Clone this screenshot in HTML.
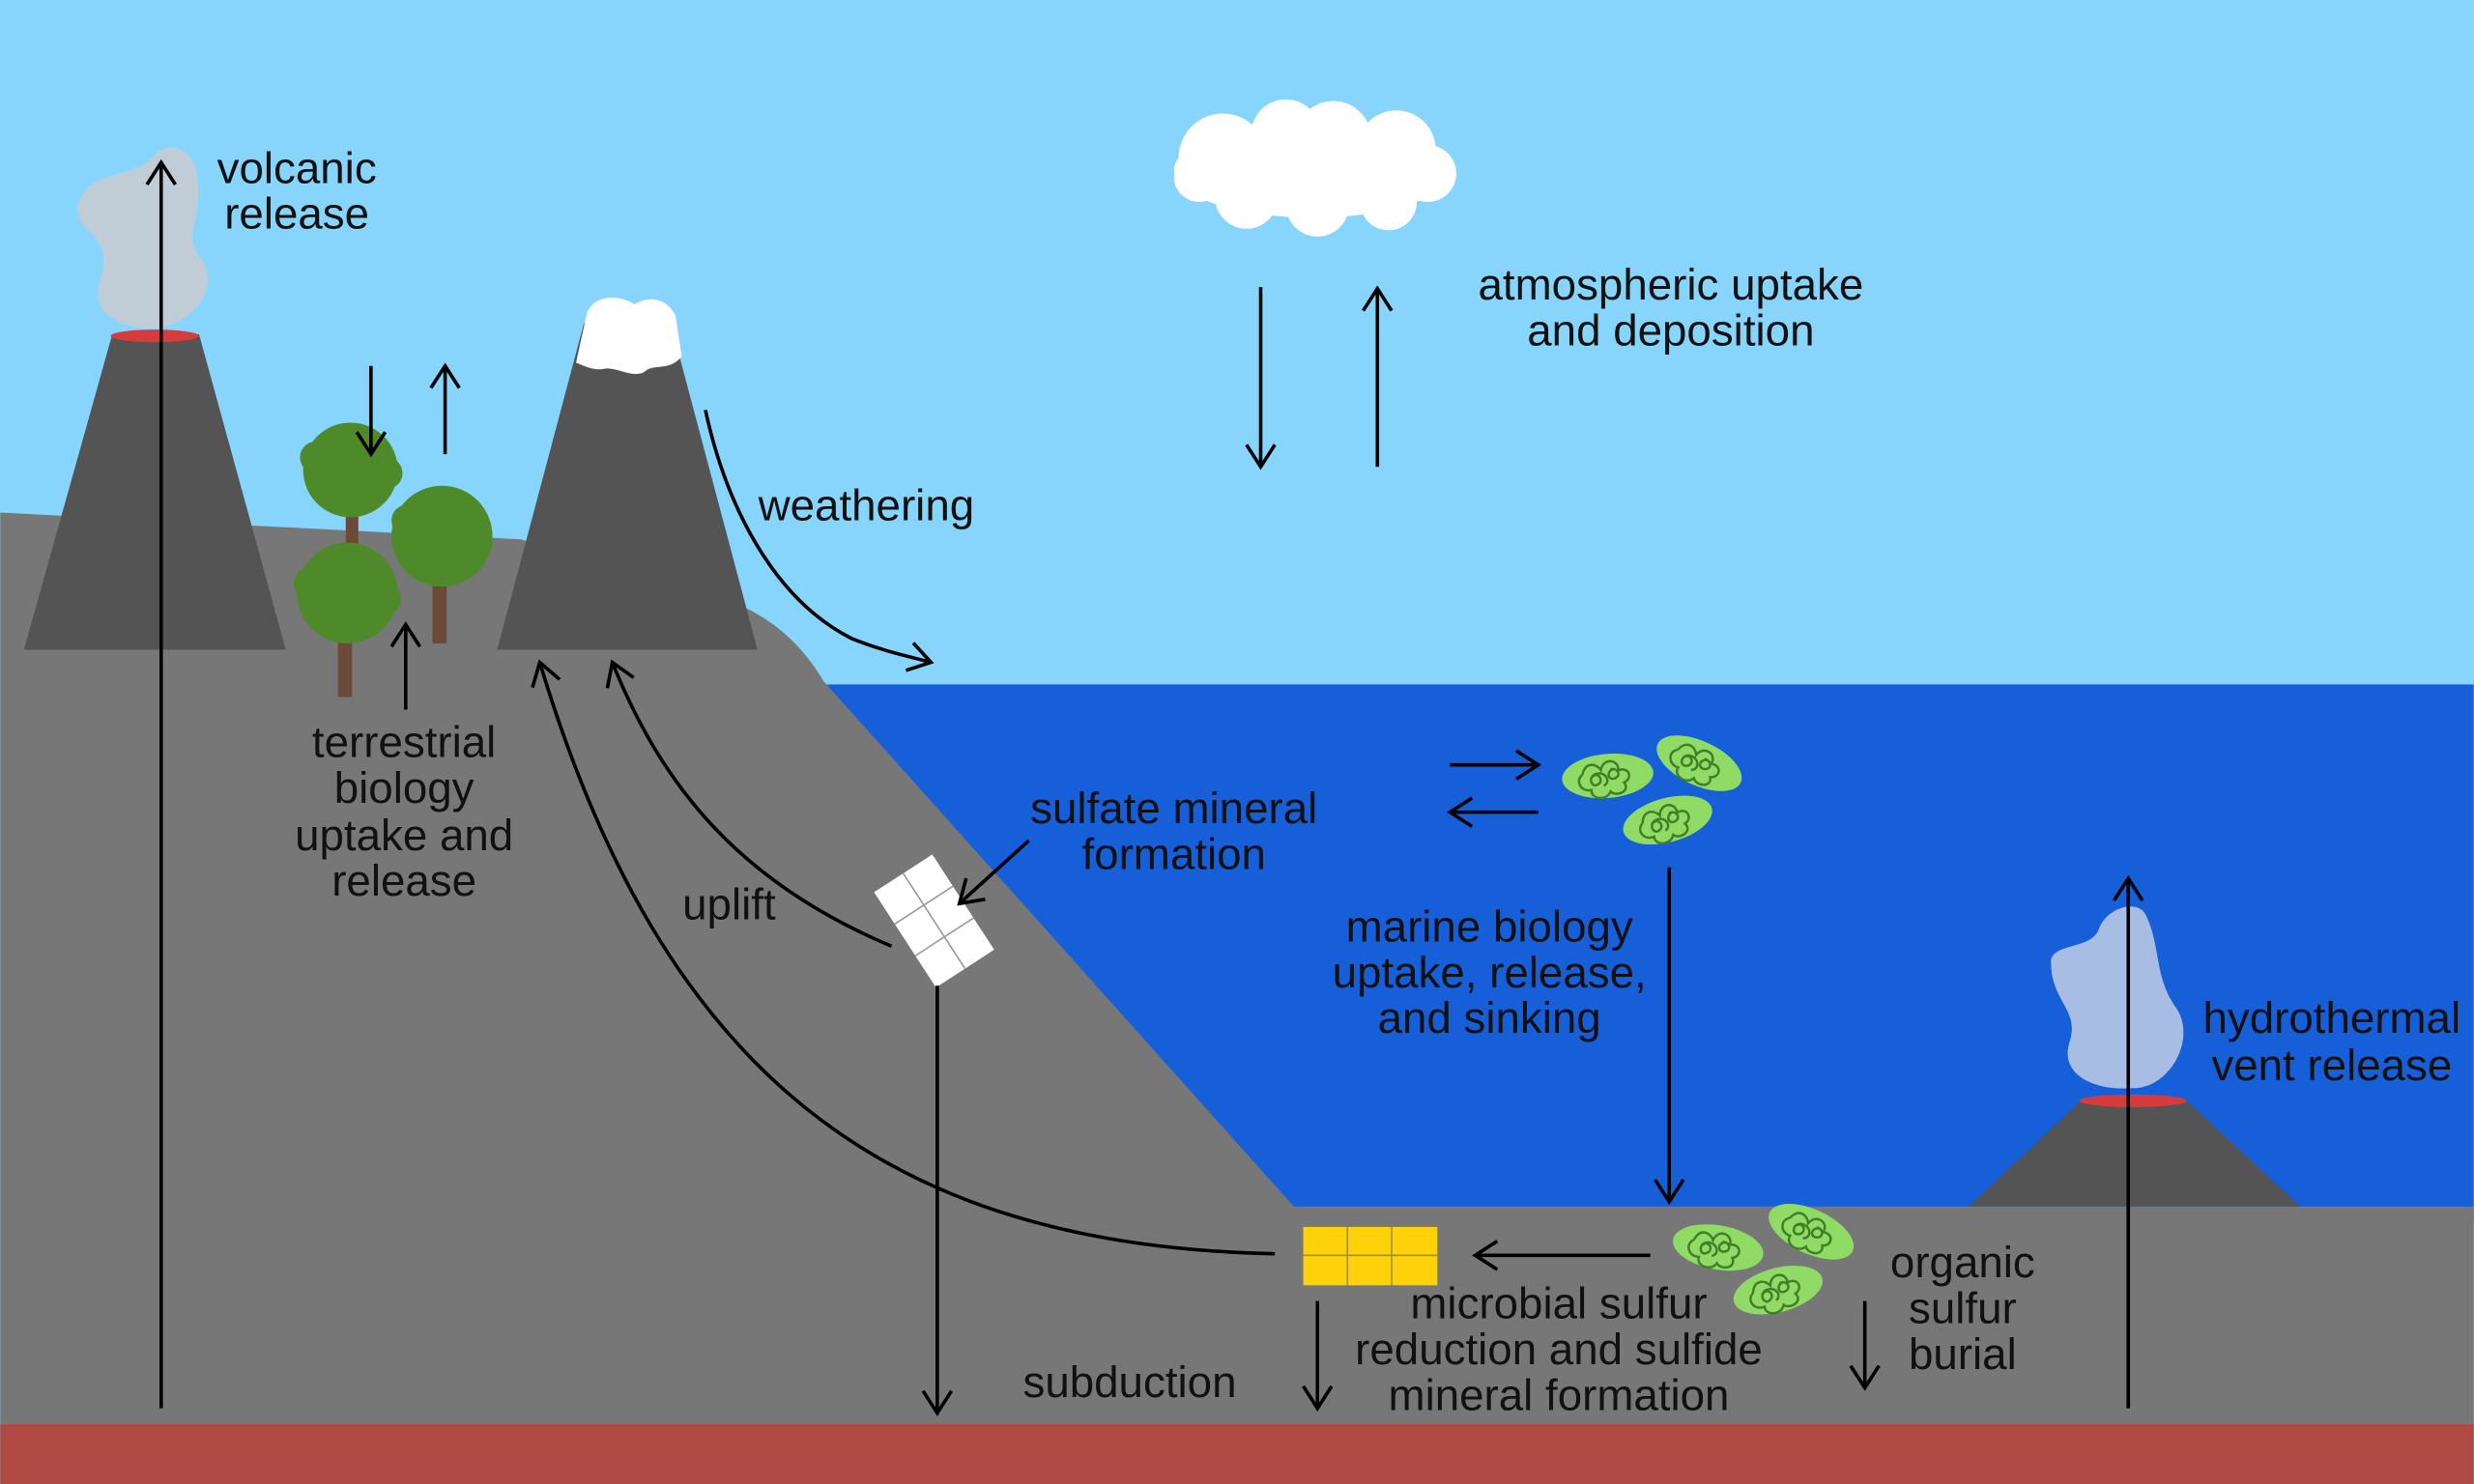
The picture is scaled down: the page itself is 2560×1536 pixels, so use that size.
<!DOCTYPE html>
<html><head><meta charset="utf-8"><style>
html,body{margin:0;padding:0;background:#87d5fc;}
svg{display:block;}
text{font-family:"Liberation Sans",Arial,sans-serif;font-size:28px;fill:#111;text-anchor:middle;}
</style></head><body>
<svg width="2560" height="1536" viewBox="0 0 1568 941" xmlns="http://www.w3.org/2000/svg">
<defs>
<marker id="a" viewBox="0 0 20 20" refX="18" refY="10" markerWidth="20" markerHeight="20" markerUnits="userSpaceOnUse" orient="auto">
<path d="M4 1 L18 10 L4 19" fill="none" stroke="#000" stroke-width="2.2"/>
</marker>
<g id="cell">
<ellipse cx="0" cy="0" rx="29" ry="14" fill="#90da66"/>
<path d="M-16 -2 c3 -9 10 -6 12 -2 c2 -8 12 -6 11 1 c7 -2 9 6 3 8 c4 6 -6 9 -9 5 c-3 6 -13 4 -12 -2 c-7 1 -10 -7 -5 -10 M-10 0 c4 -4 8 3 3 5 c-4 2 -6 -6 0 -7 c6 -1 9 6 4 8 M2 -4 c5 -1 7 5 2 6 c-4 1 -5 -5 0 -6" fill="none" stroke="#3f7f25" stroke-width="1.5"/>
</g>
</defs>
<rect width="1568" height="941" fill="#87d5fc"/>
<rect x="510" y="434" width="1058" height="340" fill="#175fd8"/>
<path d="M0 325 L330 342 L430 372 C470 380 500 395 522 432 L820 765 L1568 765 L1568 941 L0 941 Z" fill="#777777"/>
<rect x="0" y="903" width="1568" height="38" fill="#b04a45"/>
<path d="M55 120 C65 108 88 112 98 98 C108 88 125 95 125 115 C128 140 115 150 128 165 C140 185 120 205 100 208 C80 210 60 200 62 185 C64 170 70 165 60 150 C48 140 45 130 55 120 Z" fill="#c1cdd6"/>
<polygon points="15,412 181,412 126,212 71,212" fill="#545454"/>
<ellipse cx="98" cy="213" rx="28" ry="4" fill="#d63c3c"/>
<polygon points="315,412 480,412 425,205 370,205" fill="#545454"/>
<path d="M372 198 C378 185 395 188 402 193 C410 188 422 188 428 200 L432 226 C424 236 414 230 408 236 C400 240 390 232 382 234 C376 235 370 232 365 230 Z" fill="#fff"/>
<rect x="214" y="395" width="9" height="47" fill="#6b4a3a"/>
<rect x="219" y="320" width="8" height="30" fill="#6b4a3a"/>
<rect x="274" y="360" width="9" height="48" fill="#6b4a3a"/>
<g fill="#4e8a2a">
<circle cx="222" cy="298" r="30"/><circle cx="200" cy="290" r="10"/><circle cx="245" cy="300" r="10"/>
<circle cx="280" cy="340" r="32"/><circle cx="258" cy="330" r="10"/><circle cx="302" cy="345" r="10"/>
<circle cx="220" cy="376" r="32"/><circle cx="196" cy="370" r="10"/><circle cx="244" cy="380" r="10"/>
</g>
<g fill="#fff">
<ellipse cx="832" cy="108" rx="88" ry="30"/>
<circle cx="775" cy="100" r="28"/><circle cx="815" cy="85" r="22"/><circle cx="845" cy="88" r="24"/>
<circle cx="885" cy="95" r="25"/><circle cx="905" cy="110" r="18"/><circle cx="790" cy="125" r="20"/>
<circle cx="835" cy="130" r="20"/><circle cx="880" cy="128" r="18"/><circle cx="760" cy="112" r="16"/>
</g>
<path d="M1330 590 C1335 575 1355 570 1360 580 C1370 600 1365 620 1380 640 C1392 660 1375 690 1352 690 C1325 692 1305 680 1312 660 C1318 640 1300 635 1300 610 C1300 598 1325 602 1330 590 Z" fill="#a7bde3"/>
<polygon points="1248,765 1458,765 1385,697 1320,697" fill="#545454"/>
<ellipse cx="1352" cy="698" rx="34" ry="4" fill="#d63c3c"/>
<g transform="translate(592,584) rotate(-33)">
<rect x="-22" y="-36" width="44" height="72" fill="#fff"/>
<path d="M0 -36 V36 M-22 -12 H22 M-22 12 H22" stroke="#999" stroke-width="1"/>
</g>
<rect x="826" y="778" width="85" height="37" fill="#fdd20a"/>
<path d="M854 778 V815 M882 778 V815 M826 796 H911" stroke="#a09040" stroke-width="1"/>
<use href="#cell" transform="translate(1019,492) rotate(-5)"/>
<use href="#cell" transform="translate(1077,484) rotate(25)"/>
<use href="#cell" transform="translate(1057,520) rotate(-15)"/>
<use href="#cell" transform="translate(1089,791) rotate(10)"/>
<use href="#cell" transform="translate(1148,781) rotate(25)"/>
<use href="#cell" transform="translate(1127,818) rotate(-15)"/>
<g stroke="#000" stroke-width="2.2" fill="none" marker-end="url(#a)">
<line x1="102" y1="893" x2="102" y2="103"/>
<line x1="235" y1="232" x2="235" y2="288"/>
<line x1="282" y1="288" x2="282" y2="232"/>
<line x1="257" y1="450" x2="257" y2="396"/>
<path d="M447 260 C460 320 490 380 540 405 C560 413 575 416 590 420"/>
<line x1="799" y1="182" x2="799" y2="296"/>
<line x1="873" y1="296" x2="873" y2="183"/>
<line x1="652" y1="533" x2="608" y2="573"/>
<path d="M565 600 C470 560 420 500 388 420"/>
<path d="M808 795 C560 790 420 680 342 420"/>
<line x1="594" y1="625" x2="594" y2="896"/>
<line x1="919" y1="485" x2="975" y2="485"/>
<line x1="975" y1="515" x2="919" y2="515"/>
<line x1="1058" y1="550" x2="1058" y2="762"/>
<line x1="1046" y1="796" x2="935" y2="796"/>
<line x1="835" y1="825" x2="835" y2="893"/>
<line x1="1182" y1="825" x2="1182" y2="880"/>
<line x1="1349" y1="893" x2="1349" y2="557"/>
</g>
<text x="188" y="116">volcanic</text><text x="188" y="145">release</text>
<text x="1059" y="190">atmospheric uptake</text><text x="1059" y="219">and deposition</text>
<text x="549" y="330">weathering</text>
<text x="256" y="480">terrestrial</text><text x="256" y="509">biology</text><text x="256" y="539">uptake and</text><text x="256" y="568">release</text>
<text x="462" y="583">uplift</text>
<text x="744" y="522">sulfate mineral</text><text x="744" y="551">formation</text>
<text x="944" y="597">marine biology</text><text x="944" y="626">uptake, release,</text><text x="944" y="655">and sinking</text>
<text x="1478" y="655">hydrothermal</text><text x="1478" y="685">vent release</text>
<text x="1244" y="810">organic</text><text x="1244" y="839">sulfur</text><text x="1244" y="868">burial</text>
<text x="988" y="836">microbial sulfur</text><text x="988" y="865">reduction and sulfide</text><text x="988" y="894">mineral formation</text>
<text x="716" y="886">subduction</text>
</svg>
</body></html>
